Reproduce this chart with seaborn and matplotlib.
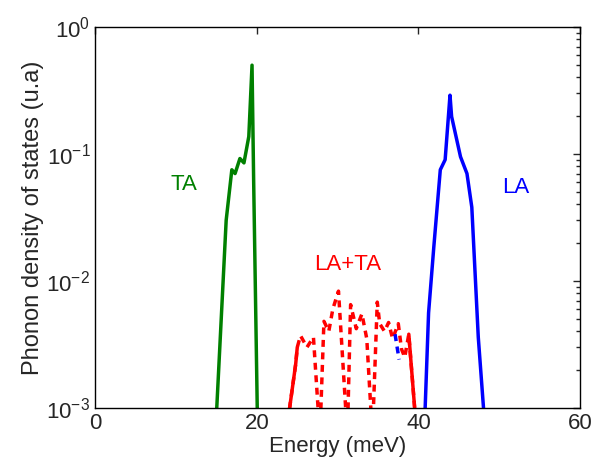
import numpy as np
import pandas as pd
import matplotlib
matplotlib.use("Agg")
import matplotlib.pyplot as plt
import seaborn as sns
from matplotlib.ticker import LogLocator, MultipleLocator

# data (energy in meV, DOS in arbitrary units)
ta_energy = [15.0, 16.2, 16.9, 17.3, 17.9, 18.4, 19.0, 19.4, 19.6, 20.1]
ta_dos = [0.0009, 0.030, 0.075, 0.070, 0.092, 0.085, 0.137, 0.50, 0.062, 0.0006]

la_energy = [40.8, 41.25, 41.9, 42.7, 43.3, 43.9, 44.1, 45.2, 46.0, 46.6, 47.4, 48.1]
la_dos = [0.0009, 0.0056, 0.0186, 0.075, 0.090, 0.29, 0.197, 0.095, 0.070, 0.038, 0.0036, 0.0009]

mix_energy = [23.4, 24.8, 25.0, 25.4, 26.2, 27.0, 27.8, 28.3, 28.9, 29.4, 30.1, 31.2,
              31.6, 32.3, 33.0, 33.6, 34.3, 34.9, 35.2, 35.8, 36.3, 36.8, 37.5, 37.9,
              38.3, 38.8, 39.9]
mix_dos = [0.0005, 0.0022, 0.0030, 0.0037, 0.0030, 0.0036, 0.0006, 0.0048, 0.0040, 0.0060,
           0.0083, 0.0006, 0.0065, 0.0042, 0.0055, 0.0035, 0.0006, 0.0068, 0.0046, 0.0040,
           0.0047, 0.0035, 0.0046, 0.0029, 0.0025, 0.0038, 0.0005]

# short blue piece inside the LA+TA band
la_piece_energy = [37.1, 37.6]
la_piece_dos = [0.0038, 0.0024]

sns.set_style("white")
plt.rcParams["font.family"] = ["Liberation Sans", "DejaVu Sans"]

fig = plt.figure(figsize=(6.03, 4.65), dpi=100)
ax = fig.add_axes([0.158, 0.123, 0.804, 0.819])

green = "#008000"
blue = "#0000ff"
red = "#ff0000"
lw = 2.5

sns.lineplot(x=ta_energy, y=ta_dos, ax=ax, color=green, lw=lw, sort=False, estimator=None)
sns.lineplot(x=la_energy, y=la_dos, ax=ax, color=blue, lw=lw, sort=False, estimator=None)
sns.lineplot(x=mix_energy, y=mix_dos, ax=ax, color=red, lw=lw, sort=False,
             estimator=None, dashes=False, linestyle=(0, (2.0, 1.6)))
# solid ends of the LA+TA curve
sns.lineplot(x=mix_energy[:3], y=mix_dos[:3], ax=ax, color=red, lw=lw, sort=False, estimator=None)
sns.lineplot(x=mix_energy[-2:], y=mix_dos[-2:], ax=ax, color=red, lw=lw, sort=False, estimator=None)
sns.lineplot(x=la_piece_energy, y=la_piece_dos, ax=ax, color=blue, lw=lw, sort=False,
             estimator=None, dashes=False, linestyle=(0, (2.0, 1.6)))

ax.set_yscale("log")
ax.set_xlim(0, 60)
ax.set_ylim(1e-3, 1)
ax.xaxis.set_major_locator(MultipleLocator(20))
ax.yaxis.set_major_locator(LogLocator(base=10, numticks=10))
ax.yaxis.set_minor_locator(LogLocator(base=10, subs=np.arange(2, 10), numticks=10))

ax.text(11.0, 0.057, "TA", color=green, fontsize=16, ha="center", va="center")
ax.text(52.0, 0.054, "LA", color=blue, fontsize=16, ha="center", va="center")
ax.text(31.3, 0.0135, "LA+TA", color=red, fontsize=16, ha="center", va="center")

ax.set_xlabel("Energy (meV)", fontsize=16, labelpad=1)
ax.set_ylabel("Phonon density of states (u.a)", fontsize=17, labelpad=2)

ax.tick_params(which="both", direction="in", top=True, right=True, labelsize=16, width=1)
ax.tick_params(which="major", length=5)
ax.tick_params(which="minor", length=3)
ax.tick_params(axis="x", pad=4)
for side in ax.spines.values():
    side.set_color("black")
    side.set_linewidth(1)

fig.savefig("out.png", dpi=100)
